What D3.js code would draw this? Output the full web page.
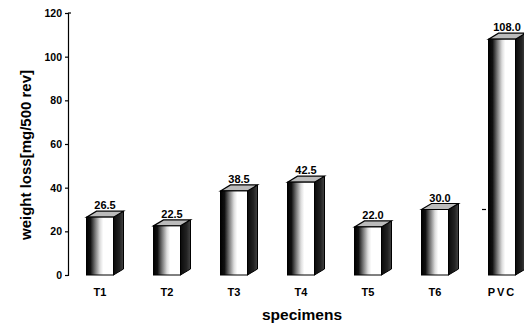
<!DOCTYPE html>
<html>
<head>
<meta charset="utf-8">
<script src="https://cdn.jsdelivr.net/npm/d3@7"></script>
<style>
  html, body { margin: 0; padding: 0; background: #fff; }
  svg { display: block; font-family: "Liberation Sans", Arial, sans-serif; font-weight: bold; }
</style>
</head>
<body>
<svg id="chart" width="524" height="329"></svg>
<script>
// Abrasion test: weight loss per 500 revolutions for each specimen
const categories = ["T1", "T2", "T3", "T4", "T5", "T6", "PVC"];
const weightLoss = [26.5, 22.5, 38.5, 42.5, 22.0, 30.0, 108.0];
const yTicks = [0, 20, 40, 60, 80, 100, 120];

const svg = d3.select("#chart");
const y = d3.scaleLinear().domain([0, 120]).range([275, 13]);
const x = d3.scalePoint().domain(categories).range([100, 502]);
const barW = 27, depthX = 10, depthY = 6;

// gradient shading for the front face of each column
const defs = svg.append("defs");
const g1 = defs.append("linearGradient").attr("id", "front").attr("x1", 0).attr("x2", 1);
[[0, "#000"], [0.15, "#111"], [0.32, "#777"], [0.5, "#ddd"], [0.62, "#fff"], [1, "#fff"]]
  .forEach(([o, c]) => g1.append("stop").attr("offset", o).attr("stop-color", c));
const g2 = defs.append("linearGradient").attr("id", "side").attr("x1", 0).attr("x2", 1);
[[0, "#0a0a0a"], [0.6, "#222"], [1, "#444"]]
  .forEach(([o, c]) => g2.append("stop").attr("offset", o).attr("stop-color", c));

// y axis
const yAxis = d3.axisLeft(y).tickValues(yTicks).tickSize(3).tickPadding(3).tickFormat(d3.format("d"));
const ya = svg.append("g").attr("transform", "translate(68,0)").call(yAxis);
ya.select(".domain").attr("stroke", "#000").attr("stroke-width", 1.2);
ya.selectAll(".tick line").attr("stroke", "#000").attr("stroke-width", 1.2);
ya.selectAll(".tick text").attr("font-size", 10.5).attr("font-weight", "bold").attr("fill", "#000")
  .attr("font-family", "Liberation Sans, Arial, sans-serif");
ya.append("line").attr("x1", 0).attr("x2", 3).attr("y1", y(120)).attr("y2", y(120))
  .attr("stroke", "#000").attr("stroke-width", 1.2);

// columns
const bars = svg.append("g").selectAll("g").data(categories).join("g");
bars.each(function(c, i) {
  const g = d3.select(this);
  const x0 = x(c) - barW / 2, x1 = x0 + barW;
  const yt = y(weightLoss[i]), yb = y(0);
  // side face
  g.append("path")
    .attr("d", `M${x1},${yt}L${x1 + depthX},${yt - depthY}L${x1 + depthX},${yb - depthY}L${x1},${yb}Z`)
    .attr("fill", "url(#side)").attr("stroke", "#000").attr("stroke-width", 1);
  // top face
  g.append("path")
    .attr("d", `M${x0},${yt}L${x0 + depthX},${yt - depthY}L${x1 + depthX},${yt - depthY}L${x1},${yt}Z`)
    .attr("fill", "#bbb").attr("stroke", "#000").attr("stroke-width", 1.2);
  // front face
  g.append("rect").attr("x", x0).attr("y", yt).attr("width", barW).attr("height", yb - yt)
    .attr("fill", "url(#front)").attr("stroke", "#000").attr("stroke-width", 1);
  // value label
  g.append("text").attr("x", x(c) + depthX / 2).attr("y", yt - depthY - 2)
    .attr("text-anchor", "middle").attr("font-size", 11).text(weightLoss[i].toFixed(1));
});

// category labels
svg.append("g").selectAll("text").data(categories).join("text")
  .attr("x", d => x(d)).attr("y", 296).attr("text-anchor", "middle")
  .attr("font-size", 11).attr("letter-spacing", d => d === "PVC" ? 2 : 0).text(d => d);

// small stray tick near the last column
svg.append("line").attr("x1", 482).attr("x2", 486).attr("y1", y(30)).attr("y2", y(30))
  .attr("stroke", "#000").attr("stroke-width", 1.2);

// axis titles
svg.append("text").attr("x", 302).attr("y", 320).attr("text-anchor", "middle")
  .attr("font-size", 15.5).text("specimens");
svg.append("text").attr("transform", "translate(31,155) rotate(-90)").attr("text-anchor", "middle")
  .attr("font-size", 15).text("weight loss[mg/500 rev]");
</script>
</body>
</html>
